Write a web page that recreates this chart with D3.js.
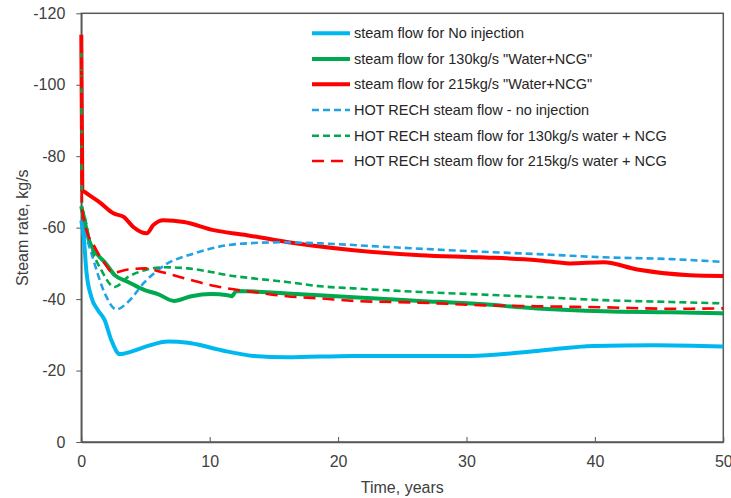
<!DOCTYPE html>
<html>
<head>
<meta charset="utf-8">
<script src="https://cdn.jsdelivr.net/npm/d3@7"></script>
<style>
  html, body { margin: 0; padding: 0; background: #fff; }
  svg { display: block; font-family: "Liberation Sans", Arial, sans-serif; }
</style>
</head>
<body>
<svg id="chart" width="731" height="498"></svg>
<script>
// Time axis (years) and steam rate (kg/s, negative = production) for each run
const tNoInj = [0, 0.2, 0.39, 0.78, 1.3, 1.82, 2.34, 2.99, 3.9, 5.2, 6.75, 8.3, 10.1, 11.4, 13.4, 16, 21.2, 26.4, 30.3, 35.5, 39.9, 44.6, 50];
const steamNoInj = [-62, -57, -48, -40.6, -36.9, -34.1, -28.5, -24.6, -25.3, -26.9, -28.1, -27.8, -26.4, -25.3, -24.1, -23.7, -24.1, -24.1, -24.1, -25.5, -26.9, -27.1, -26.7];

const t130 = [0, 0.05, 0.2, 0.52, 1.3, 1.82, 2.6, 3.64, 4.94, 5.97, 7.22, 8.57, 10.1, 11.4, 11.7, 12.1, 16, 21.2, 26.4, 31, 35.5, 40.7, 45.9, 50];
const steam130 = [-66, -65, -63, -57.4, -52.3, -50.4, -46.7, -44.8, -42.5, -41.4, -39.5, -40.8, -41.4, -41.1, -40.8, -42.3, -41.6, -40.5, -39.5, -38.6, -37.4, -36.6, -36.3, -36];

const t215 = [0, 0.08, 0.26, 1.46, 2.5, 3.3, 4.05, 5.1, 5.6, 6.4, 8.0, 10.3, 12.9, 16, 21.2, 26.4, 31, 35.5, 38.06, 40.7, 43.3, 47.4, 50];
const steam215 = [-114, -70.5, -70, -67, -64, -63, -60.2, -58.4, -60.7, -62.1, -61.6, -59.3, -57.9, -56, -53.7, -52.3, -51.7, -50.9, -50, -50.3, -48.3, -46.7, -46.5];

const tHotNoInj = [0, 0.78, 1.82, 2.73, 3.64, 4.94, 6.5, 8.8, 11.4, 13.4, 15.5, 18.6, 23.8, 30.3, 35.5, 40.7, 45.9, 50];
const hotNoInj = [-62, -52.9, -41.7, -37.1, -39.2, -44.8, -49.5, -52.8, -55.1, -55.7, -55.9, -55.6, -54.6, -53.4, -52.6, -51.7, -51.2, -50.4];

const tHot130 = [0, 0.05, 0.2, 0.78, 1.56, 2.6, 3.64, 4.94, 6.5, 8.3, 10.1, 11.4, 13.4, 16, 18.6, 21.2, 26.4, 31, 35.5, 40.7, 45.9, 50];
const hot130 = [-112, -66, -64, -54.6, -48.1, -43.4, -46.2, -48.1, -48.9, -48.6, -47.6, -46.7, -45.8, -44.8, -43.6, -43, -42, -41.3, -40.6, -39.7, -39.2, -38.8];

const tHot215 = [0, 0.05, 0.26, 1.04, 1.82, 2.47, 3.64, 4.94, 6.23, 8.05, 10.1, 11.4, 13.4, 16, 18.6, 21.2, 26.4, 31, 35.5, 40.7, 45.9, 50];
const hot215 = [-113, -66, -61.2, -54.6, -50, -47.4, -48.3, -48.6, -47.6, -45.8, -43.9, -43, -42, -40.8, -40.2, -39.5, -39, -38.3, -38, -37.7, -37.3, -37.4];

const seriesNames = [
  'steam flow for No injection',
  'steam flow for 130kg/s "Water+NCG"',
  'steam flow for 215kg/s "Water+NCG"',
  'HOT RECH steam flow - no injection',
  'HOT RECH steam flow for 130kg/s water + NCG',
  'HOT RECH steam flow for 215kg/s water + NCG'
];
const xTicks = [0, 10, 20, 30, 40, 50];
const yTicks = [0, -20, -40, -60, -80, -100, -120];

// Line styles per series
const styles = [
  { color: '#00B8F0', width: 4, dash: null },
  { color: '#00A84F', width: 4, dash: null },
  { color: '#FF0000', width: 4, dash: null },
  { color: '#1FA3E6', width: 2.6, dash: '7,4' },
  { color: '#00A84F', width: 2.6, dash: '7,4' },
  { color: '#FF0000', width: 2.6, dash: '12,7' }
];

const series = [
  { t: tNoInj, v: steamNoInj },
  { t: t130, v: steam130 },
  { t: t215, v: steam215 },
  { t: tHotNoInj, v: hotNoInj },
  { t: tHot130, v: hot130 },
  { t: tHot215, v: hot215 }
].map((s, i) => ({
  name: seriesNames[i],
  style: styles[i],
  points: s.t.map((t, j) => ({ t, v: s.v[j] }))
}));

const svg = d3.select('#chart');
const plotLeft = 81.3, plotRight = 723.3, plotTop = 13.3, plotBottom = 442;

const x = d3.scaleLinear().domain([0, 50]).range([plotLeft, plotRight]);
const y = d3.scaleLinear().domain([0, -120]).range([plotBottom, plotTop]);

const axisColor = '#595959';
const textColor = '#404040';

// Plot frame
svg.append('rect')
  .attr('x', plotLeft).attr('y', plotTop)
  .attr('width', plotRight - plotLeft).attr('height', plotBottom - plotTop)
  .attr('fill', 'none').attr('stroke', axisColor).attr('stroke-width', 1.5);

// Y axis
const yAxis = svg.append('g')
  .attr('transform', `translate(${plotLeft},0)`)
  .call(d3.axisLeft(y).tickValues(yTicks).tickSize(5).tickPadding(11).tickSizeOuter(0));
yAxis.select('.domain').attr('stroke', axisColor).attr('stroke-width', 1.5);
yAxis.selectAll('.tick line').attr('stroke', axisColor).attr('stroke-width', 1);
yAxis.selectAll('.tick text')
  .attr('fill', textColor).style('font-size', '16px')
  .style('font-family', '"Liberation Sans", Arial, sans-serif')
  .text(d => d === 0 ? '0' : '-' + Math.abs(d));

// X axis (ticks point inward)
const xAxis = svg.append('g')
  .attr('transform', `translate(0,${plotBottom})`)
  .call(d3.axisBottom(x).tickValues(xTicks).tickSizeInner(-5).tickSizeOuter(0).tickPadding(14));
xAxis.select('.domain').attr('stroke', axisColor).attr('stroke-width', 1.5);
xAxis.selectAll('.tick line').attr('stroke', axisColor).attr('stroke-width', 1);
xAxis.selectAll('.tick text')
  .attr('y', 14).attr('dy', '0.71em')
  .attr('fill', textColor).style('font-size', '16px')
  .style('font-family', '"Liberation Sans", Arial, sans-serif');

// Axis titles
svg.append('text')
  .attr('x', (plotLeft + plotRight) / 2).attr('y', 493)
  .attr('text-anchor', 'middle')
  .attr('fill', textColor).style('font-size', '16px')
  .text('Time, years');

svg.append('text')
  .attr('transform', `translate(28,${(plotTop + plotBottom) / 2}) rotate(-90)`)
  .attr('text-anchor', 'middle')
  .attr('fill', textColor).style('font-size', '16px')
  .text('Steam rate, kg/s');

// Series lines
const line = d3.line()
  .x(d => x(d.t))
  .y(d => y(d.v))
  .curve(d3.curveMonotoneX);

svg.append('g')
  .selectAll('path')
  .data(series)
  .join('path')
  .attr('d', d => line(d.points))
  .attr('fill', 'none')
  .attr('stroke', d => d.style.color)
  .attr('stroke-width', d => d.style.width)
  .attr('stroke-dasharray', d => d.style.dash)
  .attr('stroke-linejoin', 'round');

// Legend
const legendRows = [33.3, 59, 84.3, 110, 135.7, 161];
const legend = svg.append('g');
series.forEach((s, i) => {
  const g = legend.append('g').attr('transform', `translate(0,${legendRows[i]})`);
  g.append('line')
    .attr('x1', 312).attr('x2', 350).attr('y1', 0).attr('y2', 0)
    .attr('stroke', s.style.color)
    .attr('stroke-width', s.style.width)
    .attr('stroke-dasharray', s.style.dash);
  g.append('text')
    .attr('x', 354).attr('y', 0).attr('dy', '0.35em')
    .attr('fill', '#262626').style('font-size', '14.5px')
    .text(s.name);
});
</script>
</body>
</html>
